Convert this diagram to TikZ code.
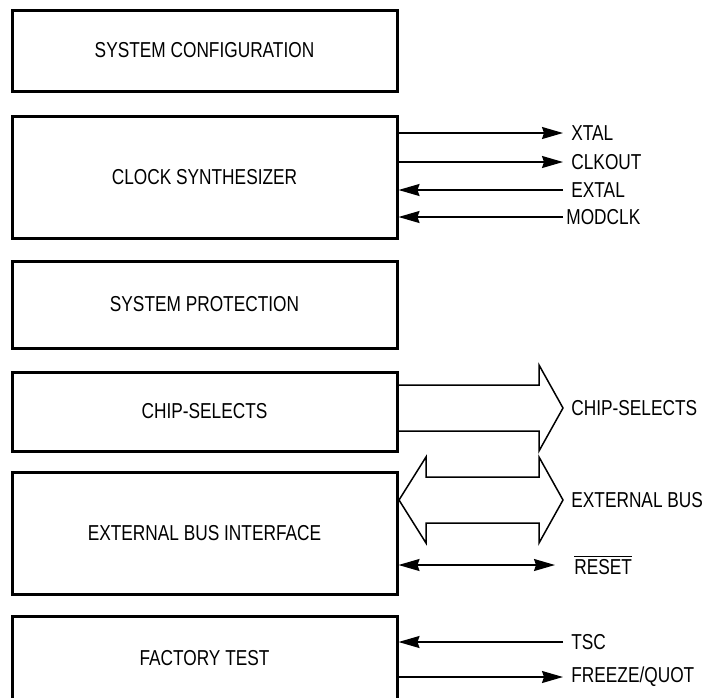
\documentclass[tikz,border=0pt]{standalone}
\usepackage{fontspec}
\setmainfont{Liberation Sans}[FakeStretch=0.8]
\usetikzlibrary{arrows.meta}
\tikzset{
  simblock/.style={draw=black, line width=1.5pt, inner sep=0pt, minimum width=192.5pt, font=\fontsize{10.8}{12}\selectfont},
  siglabel/.style={anchor=west, inner sep=4pt, font=\fontsize{10.8}{12}\selectfont},
  sigedge/.style={->, line width=0.75pt, draw=black, >={Stealth[length=10.5pt, width=6pt, inset=1pt]}},
  busedge/.style={line width=0.75pt, draw=black, line join=miter}
}

\begin{document}
\begin{tikzpicture}[x=0.5pt, y=-0.5pt]
  \useasboundingbox (0,0) rectangle (712,697);

  \node[simblock, minimum height=40.5pt] (syscfg) at (204.5,50.5) {SYSTEM CONFIGURATION};
  \node[simblock, minimum height=61pt] (clk) at (204.5,177) {\raisebox{-2pt}{CLOCK SYNTHESIZER}};
  \node[simblock, minimum height=43.5pt] (sysprot) at (204.5,304.5) {SYSTEM PROTECTION};
  \node[simblock, minimum height=39.5pt] (csel) at (204.5,411.5) {CHIP-SELECTS};
  \node[simblock, minimum height=61pt] (ebi) at (204.5,533) {\raisebox{-2pt}{EXTERNAL BUS INTERFACE}};
  \node[simblock, minimum height=42pt] (ftest) at (204.5,658) {FACTORY TEST};

  \node[siglabel] (xtal) at (563,133) {XTAL};
  \node[siglabel] (clkout) at (563,162) {CLKOUT};
  \node[siglabel] (extal) at (563,190) {EXTAL};
  \node[siglabel, inner sep=1.5pt] (modclk) at (563,217) {MODCLK};
  \node[siglabel] (csout) at (563,408) {CHIP-SELECTS};
  \node[siglabel] (ebus) at (563,500) {EXTERNAL BUS};
  \node[siglabel, inner sep=5.5pt] (reset) at (563,565) {$\overline{\mbox{RESET}}$};
  \node[siglabel] (tsc) at (563,642) {TSC};
  \node[siglabel] (frz) at (563,677) {FREEZE/QUOT};

  \draw[sigedge] (clk.east |- xtal.west) -- (xtal.west);
  \draw[sigedge] (clk.east |- clkout.west) -- (clkout.west);
  \draw[sigedge] (extal.west) -- (clk.east |- extal.west);
  \draw[sigedge] (modclk.west) -- (clk.east |- modclk.west);

  \draw[busedge] (397,385) -- (539,385) -- (539,365) -- (csout.west)
    -- (539,451) -- (539,431) -- (397,431);
  \draw[busedge] (399,500) -- (426,457) -- (426,477) -- (539,477) -- (539,457)
    -- (ebus.west) -- (539,543) -- (539,523) -- (426,523) -- (426,543) -- cycle;

  \draw[sigedge, <->] (ebi.east |- reset.west) -- ([xshift=-4pt]reset.west);
  \draw[sigedge] (tsc.west) -- (ftest.east |- tsc.west);
  \draw[sigedge] (ftest.east |- frz.west) -- (frz.west);
\end{tikzpicture}
\end{document}
